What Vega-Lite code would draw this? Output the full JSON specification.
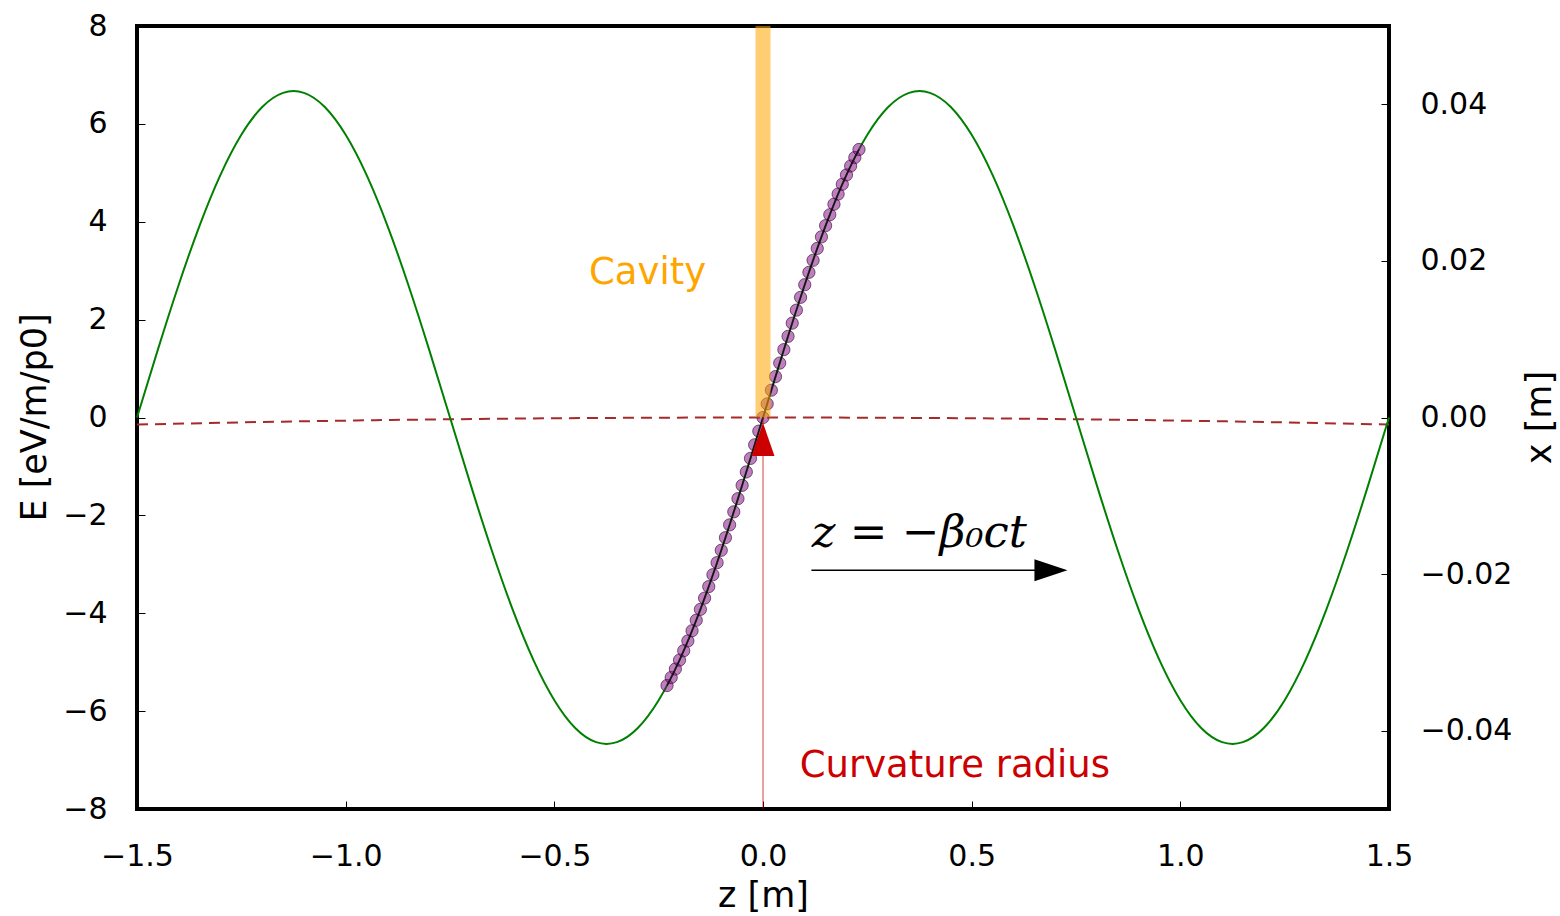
{
  "$schema": "https://vega.github.io/schema/vega-lite/v6.json",
  "width": 1252,
  "height": 783,
  "autosize": {"type": "none"},
  "padding": {"left": 137, "top": 26, "right": 171, "bottom": 107},
  "background": "white",
  "config": {
    "view": {"stroke": "black", "strokeWidth": 4},
    "axis": {
      "domain": false, "grid": false, "tickColor": "black", "tickWidth": 1, "tickSize": -8,
      "labelFont": "DejaVu Sans", "labelFontSize": 30, "labelColor": "black",
      "titleFont": "DejaVu Sans", "titleFontSize": 35, "titleFontWeight": "normal", "titleColor": "black",
      "labelOverlap": false, "labelFlush": false
    }
  },
  "datasets": {
    "sine": [
      {"z": -1.5, "E": 0}, {"z": -1.45, "E": 1.387}, {"z": -1.4, "E": 2.713}, {"z": -1.35, "E": 3.921},
      {"z": -1.3, "E": 4.957}, {"z": -1.25, "E": 5.776}, {"z": -1.2, "E": 6.344}, {"z": -1.15, "E": 6.633},
      {"z": -1.1, "E": 6.633}, {"z": -1.05, "E": 6.344}, {"z": -1.0, "E": 5.776}, {"z": -0.95, "E": 4.957},
      {"z": -0.9, "E": 3.921}, {"z": -0.85, "E": 2.713}, {"z": -0.8, "E": 1.387}, {"z": -0.75, "E": 0},
      {"z": -0.7, "E": -1.387}, {"z": -0.65, "E": -2.713}, {"z": -0.6, "E": -3.921}, {"z": -0.55, "E": -4.957},
      {"z": -0.5, "E": -5.776}, {"z": -0.45, "E": -6.344}, {"z": -0.4, "E": -6.633}, {"z": -0.35, "E": -6.633},
      {"z": -0.3, "E": -6.344}, {"z": -0.25, "E": -5.776}, {"z": -0.2, "E": -4.957}, {"z": -0.15, "E": -3.921},
      {"z": -0.1, "E": -2.713}, {"z": -0.05, "E": -1.387}, {"z": 0, "E": 0},
      {"z": 0.05, "E": 1.387}, {"z": 0.1, "E": 2.713}, {"z": 0.15, "E": 3.921}, {"z": 0.2, "E": 4.957},
      {"z": 0.25, "E": 5.776}, {"z": 0.3, "E": 6.344}, {"z": 0.35, "E": 6.633}, {"z": 0.4, "E": 6.633},
      {"z": 0.45, "E": 6.344}, {"z": 0.5, "E": 5.776}, {"z": 0.55, "E": 4.957}, {"z": 0.6, "E": 3.921},
      {"z": 0.65, "E": 2.713}, {"z": 0.7, "E": 1.387}, {"z": 0.75, "E": 0}, {"z": 0.8, "E": -1.387},
      {"z": 0.85, "E": -2.713}, {"z": 0.9, "E": -3.921}, {"z": 0.95, "E": -4.957}, {"z": 1.0, "E": -5.776},
      {"z": 1.05, "E": -6.344}, {"z": 1.1, "E": -6.633}, {"z": 1.15, "E": -6.633}, {"z": 1.2, "E": -6.344},
      {"z": 1.25, "E": -5.776}, {"z": 1.3, "E": -4.957}, {"z": 1.35, "E": -3.921}, {"z": 1.4, "E": -2.713},
      {"z": 1.45, "E": -1.387}, {"z": 1.5, "E": 0}
    ],
    "beam": [
      {"z": -0.23, "E": -5.477}, {"z": -0.22, "E": -5.313}, {"z": -0.21, "E": -5.139}, {"z": -0.2, "E": -4.957},
      {"z": -0.19, "E": -4.766}, {"z": -0.18, "E": -4.566}, {"z": -0.17, "E": -4.358}, {"z": -0.16, "E": -4.143},
      {"z": -0.15, "E": -3.921}, {"z": -0.14, "E": -3.691}, {"z": -0.13, "E": -3.455}, {"z": -0.12, "E": -3.213},
      {"z": -0.11, "E": -2.966}, {"z": -0.1, "E": -2.713}, {"z": -0.09, "E": -2.455}, {"z": -0.08, "E": -2.194},
      {"z": -0.07, "E": -1.928}, {"z": -0.06, "E": -1.659}, {"z": -0.05, "E": -1.387}, {"z": -0.04, "E": -1.112},
      {"z": -0.03, "E": -0.836}, {"z": -0.02, "E": -0.558}, {"z": -0.01, "E": -0.279}, {"z": 0, "E": 0},
      {"z": 0.01, "E": 0.279}, {"z": 0.02, "E": 0.558}, {"z": 0.03, "E": 0.836}, {"z": 0.04, "E": 1.112},
      {"z": 0.05, "E": 1.387}, {"z": 0.06, "E": 1.659}, {"z": 0.07, "E": 1.928}, {"z": 0.08, "E": 2.194},
      {"z": 0.09, "E": 2.455}, {"z": 0.1, "E": 2.713}, {"z": 0.11, "E": 2.966}, {"z": 0.12, "E": 3.213},
      {"z": 0.13, "E": 3.455}, {"z": 0.14, "E": 3.691}, {"z": 0.15, "E": 3.921}, {"z": 0.16, "E": 4.143},
      {"z": 0.17, "E": 4.358}, {"z": 0.18, "E": 4.566}, {"z": 0.19, "E": 4.766}, {"z": 0.2, "E": 4.957},
      {"z": 0.21, "E": 5.139}, {"z": 0.22, "E": 5.313}, {"z": 0.23, "E": 5.477}
    ],
    "curv": [
      {"z": -1.5, "x": -0.0009}, {"z": -1.25, "x": -0.000625}, {"z": -1.0, "x": -0.0004}, {"z": -0.75, "x": -0.000225},
      {"z": -0.5, "x": -0.0001}, {"z": -0.25, "x": -0.000025}, {"z": 0, "x": 0}, {"z": 0.25, "x": -0.000025},
      {"z": 0.5, "x": -0.0001}, {"z": 0.75, "x": -0.000225}, {"z": 1.0, "x": -0.0004}, {"z": 1.25, "x": -0.000625},
      {"z": 1.5, "x": -0.0009}
    ]
  },
  "layer": [
    {
      "data": {"name": "curv"},
      "mark": {"type": "line", "color": "#a52a2a", "strokeDash": [11, 7], "strokeWidth": 2, "interpolate": "natural"},
      "encoding": {
        "x": {"field": "z", "type": "quantitative", "scale": {"domain": [-1.5, 1.5], "nice": false, "zero": false}},
        "y": {
          "field": "x", "type": "quantitative",
          "scale": {"domain": [-0.05, 0.05], "nice": false, "zero": false},
          "axis": {
            "orient": "right", "values": [-0.04, -0.02, 0, 0.02, 0.04], "format": ".2f", "title": "x [m]",
            "labelPadding": 39, "titleX": 150, "titleY": 391, "titleAngle": -90,
            "titleBaseline": "middle", "titleAlign": "center"
          }
        }
      }
    },
    {
      "layer": [
        {
          "data": {"name": "sine"},
          "mark": {"type": "line", "color": "green", "strokeWidth": 2, "interpolate": "natural"},
          "encoding": {
            "x": {
              "field": "z", "type": "quantitative",
              "scale": {"domain": [-1.5, 1.5], "nice": false, "zero": false},
              "axis": {
                "values": [-1.5, -1, -0.5, 0, 0.5, 1, 1.5], "format": ".1f", "title": "z [m]",
                "labelPadding": 40, "titleY": 97, "titleBaseline": "alphabetic"
              }
            },
            "y": {
              "field": "E", "type": "quantitative",
              "scale": {"domain": [-8, 8], "nice": false, "zero": false},
              "axis": {
                "orient": "left", "values": [-8, -6, -4, -2, 0, 2, 4, 6, 8], "format": "d", "title": "E [eV/m/p0]",
                "labelPadding": 38, "titleX": -103, "titleY": 391, "titleAngle": -90,
                "titleBaseline": "middle", "titleAlign": "center"
              }
            }
          }
        },
        {
          "data": {"name": "beam"},
          "mark": {"type": "circle", "size": 150, "fill": "#800080", "fillOpacity": 0.5, "stroke": "#2a002a", "strokeOpacity": 0.6, "strokeWidth": 1},
          "encoding": {
            "x": {"field": "z", "type": "quantitative"},
            "y": {"field": "E", "type": "quantitative"}
          }
        },
        {
          "data": {"name": "beam"},
          "mark": {"type": "line", "color": "black", "strokeWidth": 1.5, "opacity": 0.65},
          "encoding": {
            "x": {"field": "z", "type": "quantitative"},
            "y": {"field": "E", "type": "quantitative"}
          }
        },
        {
          "data": {"values": [{"z": -0.018, "z2": 0.018, "E": 0, "E2": 8}]},
          "mark": {"type": "rect", "fill": "orange", "opacity": 0.55},
          "encoding": {
            "x": {"field": "z", "type": "quantitative"},
            "x2": {"field": "z2"},
            "y": {"field": "E", "type": "quantitative"},
            "y2": {"field": "E2"}
          }
        },
        {
          "data": {"values": [{"z": 0, "E": 0, "E2": -8}]},
          "mark": {"type": "rule", "color": "#cc0000", "strokeWidth": 1, "opacity": 0.75},
          "encoding": {
            "x": {"field": "z", "type": "quantitative"},
            "y": {"field": "E", "type": "quantitative"},
            "y2": {"field": "E2"}
          }
        },
        {
          "data": {"values": [{"z": 0, "E": -0.45}]},
          "mark": {"type": "point", "shape": "M0,-1.43L-1,1.43L1,1.43Z", "size": 529, "filled": true, "color": "#cc0000", "opacity": 1},
          "encoding": {
            "x": {"field": "z", "type": "quantitative"},
            "y": {"field": "E", "type": "quantitative"}
          }
        },
        {
          "data": {"values": [{"z": -0.417, "E": 2.73, "label": "Cavity"}]},
          "mark": {"type": "text", "align": "left", "baseline": "alphabetic", "font": "DejaVu Sans", "fontSize": 37, "color": "#ffa500"},
          "encoding": {
            "x": {"field": "z", "type": "quantitative"},
            "y": {"field": "E", "type": "quantitative"},
            "text": {"field": "label"}
          }
        },
        {
          "data": {"values": [{"z": 0.088, "E": -7.35, "label": "Curvature radius"}]},
          "mark": {"type": "text", "align": "left", "baseline": "alphabetic", "font": "DejaVu Sans", "fontSize": 37, "color": "#cc0000"},
          "encoding": {
            "x": {"field": "z", "type": "quantitative"},
            "y": {"field": "E", "type": "quantitative"},
            "text": {"field": "label"}
          }
        },
        {
          "data": {"values": [{"z": 0.117, "E": -2.65, "label": "z = −β₀ct"}]},
          "mark": {"type": "text", "align": "left", "baseline": "alphabetic", "font": "DejaVu Serif", "fontStyle": "italic", "fontSize": 45, "color": "black"},
          "encoding": {
            "x": {"field": "z", "type": "quantitative"},
            "y": {"field": "E", "type": "quantitative"},
            "text": {"field": "label"}
          }
        },
        {
          "data": {"values": [{"z": 0.116, "z2": 0.68, "E": -3.12}]},
          "mark": {"type": "rule", "color": "black", "strokeWidth": 1.5},
          "encoding": {
            "x": {"field": "z", "type": "quantitative"},
            "x2": {"field": "z2"},
            "y": {"field": "E", "type": "quantitative"}
          }
        },
        {
          "data": {"values": [{"z": 0.69, "E": -3.12}]},
          "mark": {"type": "point", "shape": "M-1,-0.67L1,0L-1,0.67Z", "size": 1089, "filled": true, "color": "black", "opacity": 1},
          "encoding": {
            "x": {"field": "z", "type": "quantitative"},
            "y": {"field": "E", "type": "quantitative"}
          }
        }
      ]
    }
  ],
  "resolve": {"scale": {"y": "independent"}}
}
